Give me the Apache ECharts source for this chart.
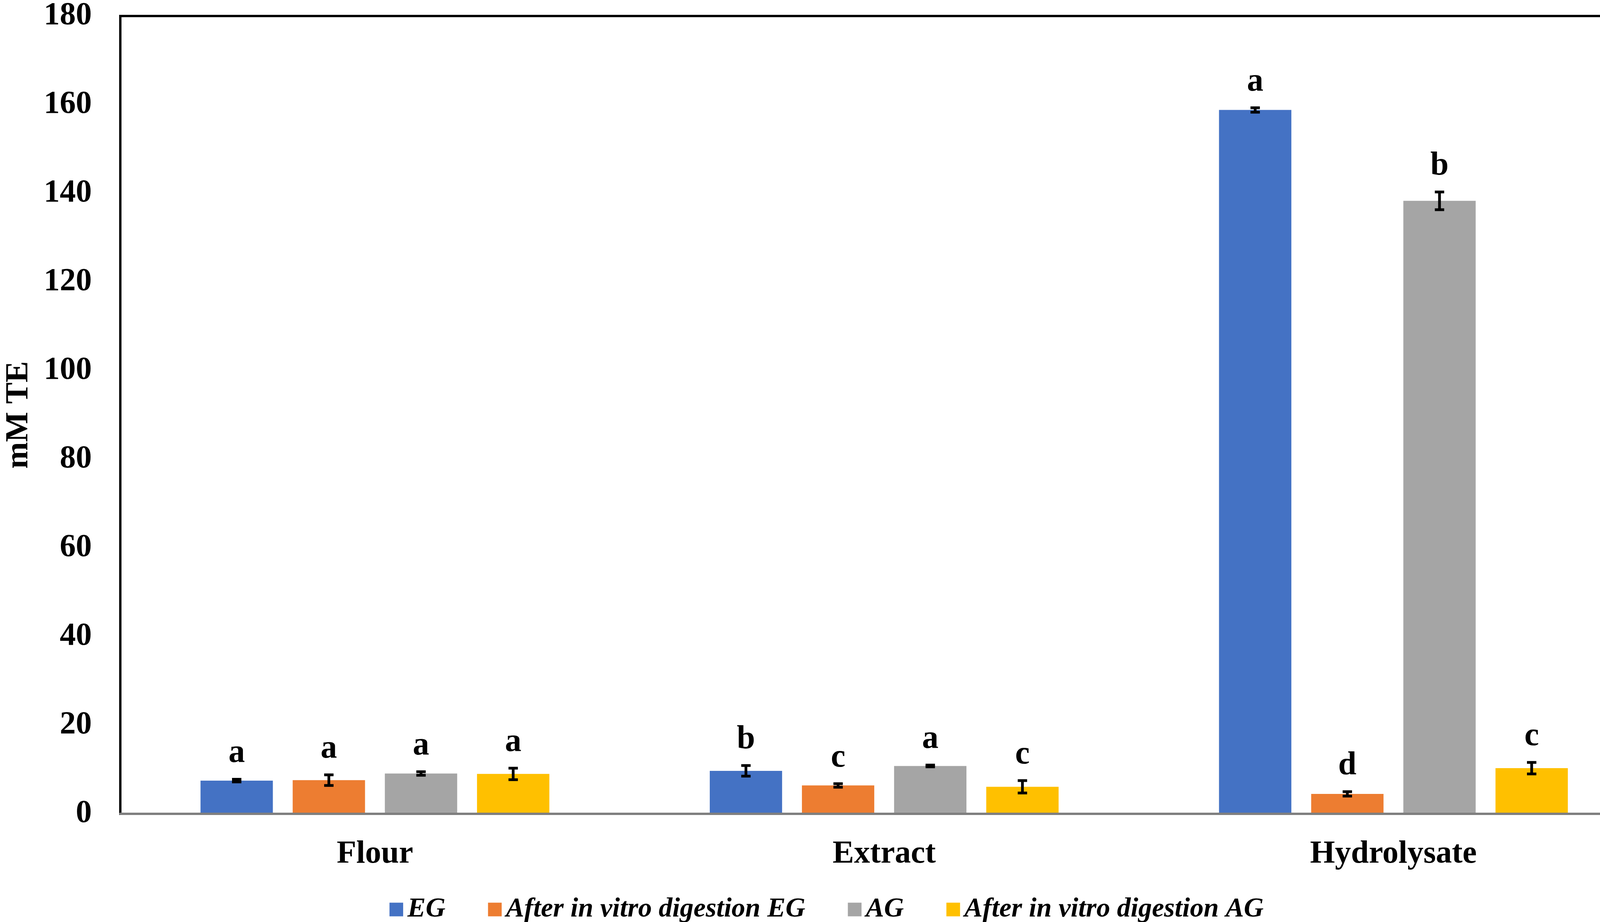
<!DOCTYPE html>
<html>
<head>
<meta charset="utf-8">
<style>
  html, body { margin: 0; padding: 0; background: #fff; }
  #chart { width: 4232px; height: 2361px; }
</style>
<script src="https://cdn.jsdelivr.net/npm/echarts@6/dist/echarts.min.js"></script>
</head>
<body>
<div id="chart"></div>
<script>
// values (mM TE)
const categories = ['Flour', 'Extract', 'Hydrolysate'];
const seriesNames = ['EG', 'After in vitro digestion EG', 'AG', 'After in vitro digestion AG'];
const colors = ['#4472C4', '#ED7D31', '#A5A5A5', '#FFC000'];

const egValues = [7.5, 9.7, 158.8];
const egDigValues = [7.6, 6.4, 4.5];
const agValues = [9.1, 10.8, 138.3];
const agDigValues = [9.0, 6.1, 10.3];

const egErr = [0.3, 1.2, 0.5];
const egDigErr = [1.2, 0.4, 0.5];
const agErr = [0.4, 0.2, 2.0];
const agDigErr = [1.3, 1.4, 1.3];

const egLetters = ['a', 'b', 'a'];
const egDigLetters = ['a', 'c', 'd'];
const agLetters = ['a', 'a', 'b'];
const agDigLetters = ['a', 'c', 'c'];

const yTicks = { min: 0, max: 180, interval: 20 };

const values = [egValues, egDigValues, agValues, agDigValues];
const errors = [egErr, egDigErr, agErr, agDigErr];
const letters = [egLetters, egDigLetters, agLetters, agDigLetters];

const FONT = '"Liberation Serif", "Times New Roman", serif';
const CAT_GAP = 0.315;
const BAR_GAP = 0.274;
const N = seriesNames.length;

const chart = echarts.init(document.getElementById('chart'));

// same layout rule ECharts uses for grouped bars, so error bars sit on bar centres
function barOffset(bandWidth, idx) {
  const barW = bandWidth * (1 - CAT_GAP) / (N + (N - 1) * BAR_GAP);
  const total = N * barW + (N - 1) * barW * BAR_GAP;
  return -total / 2 + idx * barW * (1 + BAR_GAP) + barW / 2;
}

const barSeries = seriesNames.map((name, i) => ({
  name: name,
  type: 'bar',
  data: values[i],
  itemStyle: { color: colors[i] },
  barGap: (BAR_GAP * 100) + '%',
  barCategoryGap: (CAT_GAP * 100) + '%',
  animation: false,
  z: 2
}));

const errSeries = seriesNames.map((name, i) => ({
  name: name + ' err',
  type: 'custom',
  data: values[i].map((v, j) => [j, v, errors[i][j]]),
  encode: { x: 0, y: 1 },
  animation: false,
  silent: true,
  z: 5,
  renderItem: function (params, api) {
    const j = api.value(0);
    const v = api.value(1);
    const e = api.value(2);
    const band = api.size([1, 0])[0];
    const cx = api.coord([j, v])[0] + barOffset(band, i);
    const yHi = api.coord([j, v + e])[1];
    const yLo = api.coord([j, v - e])[1];
    const capHalf = 12;
    const lineStyle = { stroke: '#000', lineWidth: 7 };
    return {
      type: 'group',
      children: [
        { type: 'line', shape: { x1: cx, y1: yHi, x2: cx, y2: yLo }, style: lineStyle },
        { type: 'line', shape: { x1: cx - capHalf, y1: yHi, x2: cx + capHalf, y2: yHi }, style: lineStyle },
        { type: 'line', shape: { x1: cx - capHalf, y1: yLo, x2: cx + capHalf, y2: yLo }, style: lineStyle },
        {
          type: 'text',
          style: {
            text: letters[i][j],
            x: cx,
            y: yHi - 24,
            fill: '#000',
            fontSize: 84,
            fontWeight: 'bold',
            fontFamily: FONT,
            align: 'center',
            verticalAlign: 'bottom'
          }
        }
      ]
    };
  }
}));

const option = {
  backgroundColor: '#fff',
  textStyle: { fontFamily: FONT },
  grid: {
    left: 289, right: 13, top: 35, bottom: 277,
    show: true, borderColor: '#000', borderWidth: 6, backgroundColor: 'transparent'
  },
  legend: {
    data: seriesNames,
    left: 'center',
    top: 2289,
    icon: 'rect',
    itemWidth: 35,
    itemHeight: 35,
    itemGap: 109,
    textStyle: {
      fontFamily: FONT,
      fontSize: 70,
      fontWeight: 'bold',
      fontStyle: 'italic',
      color: '#000',
      padding: [0, 0, 0, 6]
    }
  },
  xAxis: {
    type: 'category',
    data: categories,
    axisLine: { show: true, lineStyle: { color: '#7f7f7f', width: 6 } },
    axisTick: { show: false },
    axisLabel: {
      margin: 63,
      color: '#000',
      fontFamily: FONT,
      fontSize: 82,
      fontWeight: 'bold'
    },
    z: 10
  },
  yAxis: {
    type: 'value',
    min: yTicks.min,
    max: yTicks.max,
    interval: yTicks.interval,
    name: 'mM TE',
    nameLocation: 'middle',
    nameGap: 218,
    nameTextStyle: {
      color: '#000',
      fontFamily: FONT,
      fontSize: 82,
      fontWeight: 'bold'
    },
    axisLine: { show: false },
    axisTick: { show: false },
    splitLine: { show: false },
    axisLabel: {
      margin: 73,
      color: '#000',
      fontFamily: FONT,
      fontSize: 82,
      fontWeight: 'bold'
    }
  },
  series: barSeries.concat(errSeries)
};

chart.setOption(option);
</script>
</body>
</html>
